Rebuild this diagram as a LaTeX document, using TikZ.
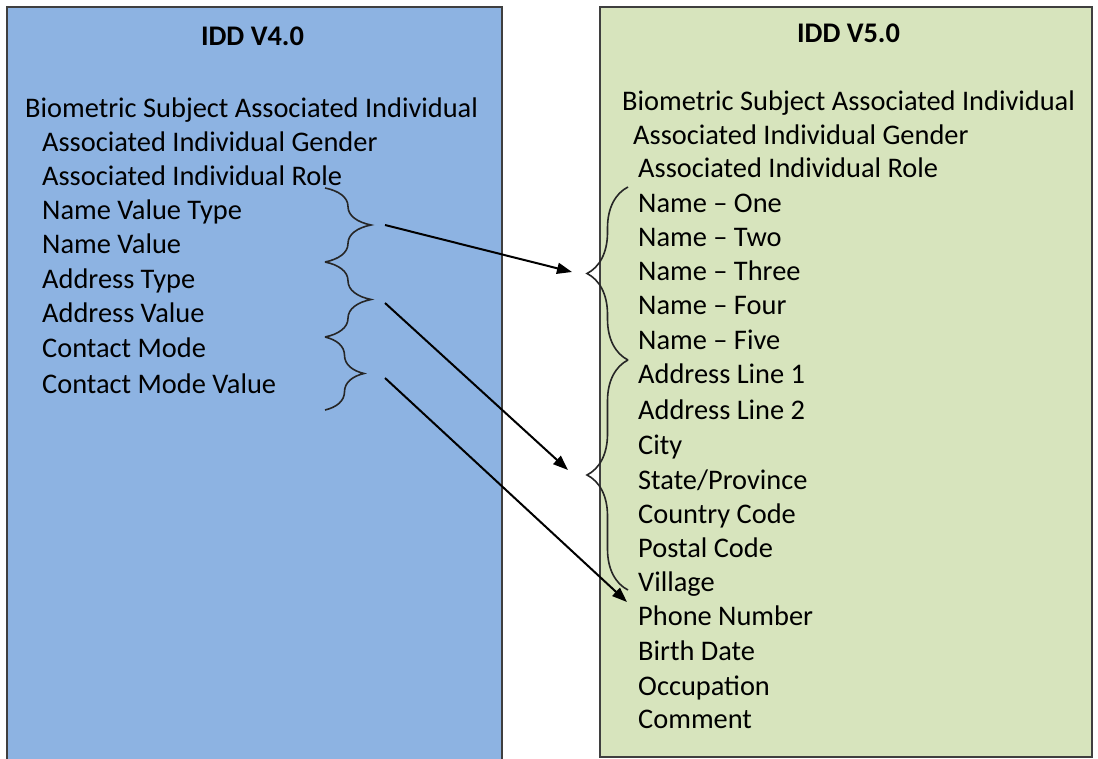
\documentclass[tikz,border=0pt]{standalone}
\usepackage{fontspec}
\setmainfont{Carlito}
\usepackage{tikz}
\usetikzlibrary{positioning,decorations.pathreplacing,arrows.meta}

\definecolor{oldblue}{HTML}{8DB3E2}
\definecolor{newgreen}{HTML}{D7E4BD}
\definecolor{frame}{HTML}{3F3F3F}

\tikzset{
  item/.style={anchor=base west, inner sep=0pt, font=\fontsize{28.4}{34}\selectfont},
  title/.style={anchor=base, inner sep=0pt, font=\fontsize{28.4}{34}\selectfont\bfseries},
  panel/.style={draw=frame, line width=1.8pt},
  grp/.style={decorate, decoration={brace, amplitude=#1}, line width=1.6pt, draw=black!85},
  link/.style={line width=2pt, -{Triangle[length=15pt,width=11pt]}},
}

\begin{document}
\begin{tikzpicture}[x=1pt,y=-1pt]
\useasboundingbox (0,0) rectangle (1098,759);
\filldraw[panel, fill=oldblue] (7,7) rectangle (502,770);
\filldraw[panel, fill=newgreen] (600,7) rectangle (1092,757);

\node[title] (v4) at (252.5,46) {IDD V4.0};
\node[item] (a0) at (25,118) {Biometric Subject Associated Individual};
\node[item] (a1) at (42,152) {Associated Individual Gender};
\node[item] (a2) at (42,186) {Associated Individual Role};
\node[item] (a3) at (42,220) {Name Value Type};
\node[item] (a4) at (42,254) {Name Value};
\node[item] (a5) at (42,289) {Address Type};
\node[item] (a6) at (42,323) {Address Value};
\node[item] (a7) at (42,357) {Contact Mode};
\node[item] (a8) at (42,393) {Contact Mode Value};

\node[title] (v5) at (848.5,43) {IDD V5.0};
\node[item] (b0) at (622,111) {Biometric Subject Associated Individual};
\node[item] (b1) at (633,145) {Associated Individual Gender};
\node[item] (b2) at (638,178) {Associated Individual Role};
\node[item] (b3) at (638,213) {Name -- One};
\node[item] (b4) at (638,247) {Name -- Two};
\node[item] (b5) at (638,281) {Name -- Three};
\node[item] (b6) at (638,315) {Name -- Four};
\node[item] (b7) at (638,350) {Name -- Five};
\node[item] (b8) at (638,384) {Address Line 1};
\node[item] (b9) at (638,419) {Address Line 2};
\node[item] (b10) at (638,454) {City};
\node[item] (b11) at (638,489) {State/Province};
\node[item] (b12) at (638,523) {Country Code};
\node[item] (b13) at (638,557) {Postal Code};
\node[item] (b14) at (638,591) {Village};
\node[item] (b15) at (638,625) {Phone Number};
\node[item] (b16) at (638,660) {Birth Date};
\node[item] (b17) at (638,695) {Occupation};
\node[item] (b18) at (638,728) {Comment};

\draw[grp=46] (325,188) -- (325,262);
\draw[grp=46] (325,262) -- (325,337);
\draw[grp=39] (325,337) -- (325,410);
\draw[grp=41] (628,360) -- (628,187);
\draw[grp=41] (628,590) -- (628,360);

\coordinate (nameFrom) at (385,225);
\coordinate (nameTo) at (572,272);
\coordinate (addrFrom) at (385,303);
\coordinate (addrTo) at (568,470);
\coordinate (contactFrom) at (385,378);
\coordinate (contactTo) at (627,602);

\draw[link] (nameFrom) -- (nameTo);
\draw[link] (addrFrom) -- (addrTo);
\draw[link] (contactFrom) -- (contactTo);

\end{tikzpicture}
\end{document}
